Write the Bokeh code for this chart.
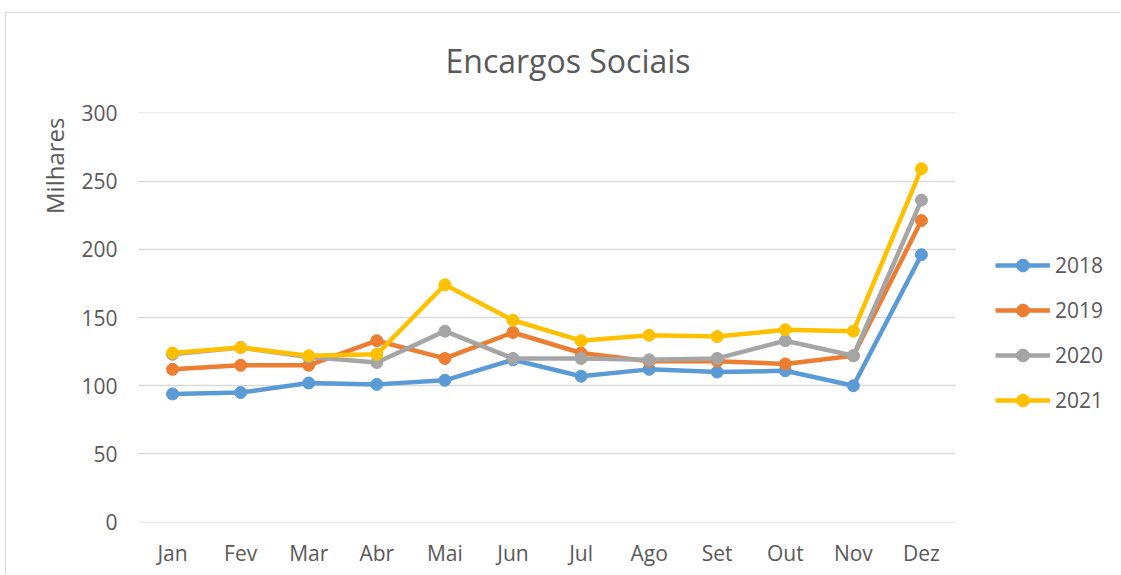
from bokeh.plotting import figure
from bokeh.models import ColumnDataSource, Legend, LegendItem, FixedTicker, Title, Range1d
from bokeh.embed import file_html
from bokeh.resources import INLINE

months = ["Jan", "Fev", "Mar", "Abr", "Mai", "Jun", "Jul", "Ago", "Set", "Out", "Nov", "Dez"]
years = ["2018", "2019", "2020", "2021"]
v2018 = [94, 95, 102, 101, 104, 119, 107, 112, 110, 111, 100, 196]
v2019 = [112, 115, 115, 133, 120, 139, 124, 118, 118, 116, 122, 221]
v2020 = [123, 128, 121, 117, 140, 120, 120, 119, 120, 133, 122, 236]
v2021 = [124, 128, 122, 123, 174, 148, 133, 137, 136, 141, 140, 259]
colors = ["#5B9BD5", "#ED7D31", "#A5A5A5", "#FFC000"]
y_ticks = [0, 50, 100, 150, 200, 250, 300]

FONT = "Open Sans"
TXT = "#595959"

idx = list(range(len(months)))
src = ColumnDataSource(dict(i=idx, y2018=v2018, y2019=v2019, y2020=v2020, y2021=v2021))

# plot area of the categories is 817 px wide; the legend lives in the 165 px to its right
n = len(months)
x_start = -0.5
x_cat_end = n - 0.5
x_end = x_cat_end + 165 * n / 817

# a hair of padding so that the 0 and 300 gridlines are drawn too
p = figure(x_range=Range1d(x_start, x_end), y_range=Range1d(-0.2, 300.2), width=1115, height=569,
           output_backend="svg", toolbar_location=None,
           min_border_left=133, min_border_right=0, min_border_top=106, min_border_bottom=52)
p.styles = {
    "margin-left": "5px", "margin-top": "5px",
    "background": "linear-gradient(#d9d9d9, #d9d9d9) left 0px top 7px / 100% 1px no-repeat, "
                  "linear-gradient(#d9d9d9, #d9d9d9) left 0px top 7px / 1px 100% no-repeat, white",
}
p.outline_line_color = None
p.background_fill_color = "white"
p.border_fill_color = None

p.title.text = "Encargos Sociais"
p.title.text_font = FONT
p.title.text_font_size = "32px"
p.title.text_font_style = "normal"
p.title.text_color = TXT
p.title.align = "left"
p.title.offset = 307
p.title.standoff = 62

p.xgrid.grid_line_color = None
p.ygrid.grid_line_color = "#d9d9d9"
p.ygrid.grid_line_width = 1.3
p.ygrid.cross_bounds = (x_start, x_cat_end)

for ax in (p.xaxis[0], p.yaxis[0]):
    ax.axis_line_color = None
    ax.major_tick_line_color = None
    ax.minor_tick_line_color = None
    ax.major_tick_out = 0
    ax.major_tick_in = 0
    ax.major_label_text_font = FONT
    ax.major_label_text_font_size = "21px"
    ax.major_label_text_color = TXT

p.xaxis[0].ticker = FixedTicker(ticks=idx)
p.xaxis[0].major_label_overrides = {i: m for i, m in zip(idx, months)}
p.yaxis[0].ticker = FixedTicker(ticks=y_ticks)
p.yaxis[0].major_label_standoff = 21
p.xaxis[0].major_label_standoff = 16

ytitle = Title(text="Milhares", align="right", offset=5, standoff=15,
               text_font=FONT, text_font_size="24px", text_font_style="normal",
               text_color=TXT)
p.add_layout(ytitle, "left")

items = []
for yr, col in zip(years, colors):
    r1 = p.line("i", "y" + yr, source=src, line_color=col, line_width=4.5, line_join="round")
    r2 = p.scatter("i", "y" + yr, source=src, size=12, fill_color=col, line_color=col)
    items.append(LegendItem(label=yr, renderers=[r1, r2]))

legend = Legend(items=items, location=(857, 106), orientation="vertical",
                glyph_width=55, glyph_height=32, label_height=20, spacing=13,
                label_standoff=5, padding=0, margin=0,
                border_line_color=None, background_fill_alpha=0,
                label_text_font=FONT, label_text_font_size="21px", label_text_color=TXT)
p.add_layout(legend, "center")

open("out.html", "w").write(file_html(p, INLINE))
